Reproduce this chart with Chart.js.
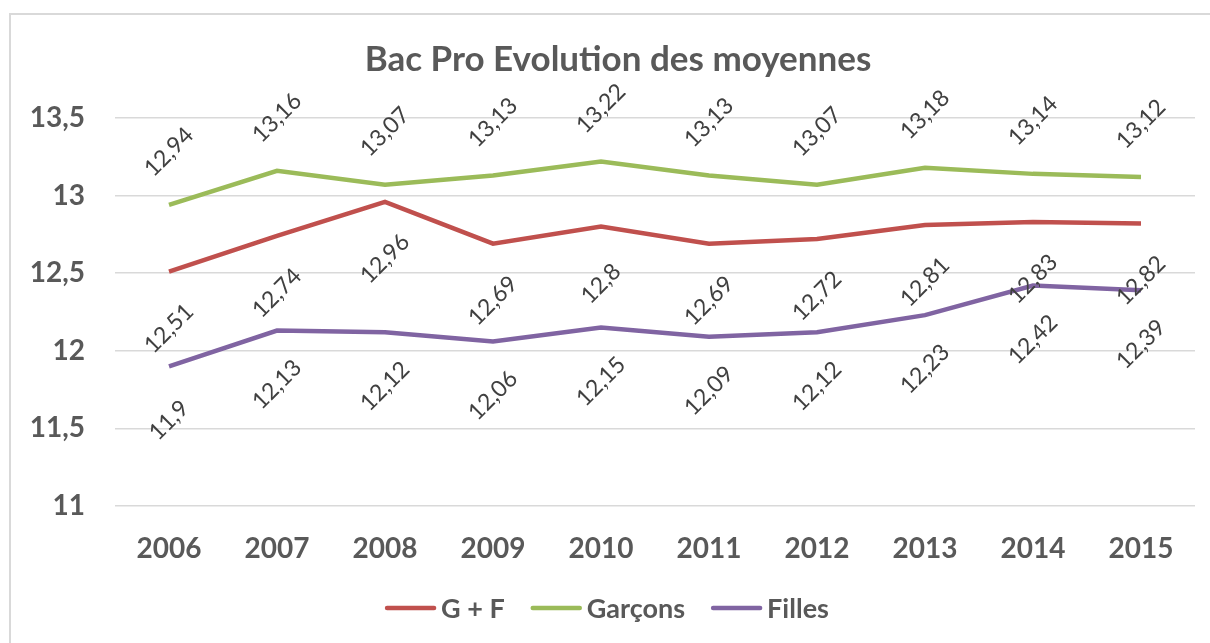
<!DOCTYPE html>
<html>
<head>
<meta charset="utf-8">
<script src="https://cdn.jsdelivr.net/npm/chart.js@4.4.1/dist/chart.umd.min.js"></script>
<style>
html,body{margin:0;padding:0;background:#fff;}
#wrap{position:relative;width:1210px;height:643px;}
</style>
</head>
<body>
<div id="wrap"><canvas id="c" width="1210" height="643"></canvas></div>
<script>
const categories = ['2006','2007','2008','2009','2010','2011','2012','2013','2014','2015'];
const gfValues = [12.51, 12.74, 12.96, 12.69, 12.8, 12.69, 12.72, 12.81, 12.83, 12.82];
const garconsValues = [12.94, 13.16, 13.07, 13.13, 13.22, 13.13, 13.07, 13.18, 13.14, 13.12];
const fillesValues = [11.9, 12.13, 12.12, 12.06, 12.15, 12.09, 12.12, 12.23, 12.42, 12.39];
const seriesNames = ['G + F', 'Garçons', 'Filles'];
const titleText = 'Bac Pro Evolution des moyennes';
const yMin = 11, yMax = 13.5, yStep = 0.5;

const colors = ['#C0504D', '#9BBB59', '#8064A2'];
const labelOffsets = [57, -53, 54]; // vertical offset of rotated value labels
const fmt = v => String(v).replace('.', ',');

const decorPlugin = {
  id: 'decor',
  beforeDraw(chart) {
    const ctx = chart.ctx;
    ctx.save();
    ctx.fillStyle = '#fff';
    ctx.fillRect(0, 0, chart.width, chart.height);
    ctx.strokeStyle = '#d9d9d9';
    ctx.lineWidth = 2;
    ctx.strokeRect(10, 14, 1240, 660);
    ctx.restore();
  },
  afterDatasetsDraw(chart) {
    const ctx = chart.ctx;
    ctx.save();
    // value labels
    ctx.font = '23px Lato';
    ctx.fillStyle = '#404040';
    ctx.textAlign = 'center';
    ctx.textBaseline = 'middle';
    chart.data.datasets.forEach((ds, di) => {
      const meta = chart.getDatasetMeta(di);
      meta.data.forEach((pt, i) => {
        ctx.save();
        ctx.translate(pt.x, pt.y + labelOffsets[di]);
        ctx.rotate(-Math.PI / 4);
        ctx.fillText(fmt(ds.data[i]), 0, 0);
        ctx.restore();
      });
    });
    // title
    ctx.font = 'bold 35px Lato';
    ctx.fillStyle = '#595959';
    ctx.textAlign = 'center';
    ctx.textBaseline = 'middle';
    ctx.fillText(titleText, 618, 60);
    // legend
    ctx.font = 'bold 27px Lato';
    ctx.textAlign = 'left';
    const lineLen = 51, gapText = 5, gapItem = 26;
    let total = 0;
    const widths = seriesNames.map(n => ctx.measureText(n).width);
    widths.forEach((w, i) => { total += lineLen + gapText + w + (i < widths.length - 1 ? gapItem : 0); });
    let x = 607 - total / 2;
    const ly = 608;
    seriesNames.forEach((n, i) => {
      ctx.strokeStyle = colors[i];
      ctx.lineWidth = 4.5;
      ctx.lineCap = 'round';
      ctx.beginPath();
      ctx.moveTo(x + 2, ly);
      ctx.lineTo(x + lineLen - 2, ly);
      ctx.stroke();
      ctx.fillStyle = '#595959';
      ctx.fillText(n, x + lineLen + gapText, ly + 1);
      x += lineLen + gapText + widths[i] + gapItem;
    });
    ctx.restore();
  }
};

const datasets = [gfValues, garconsValues, fillesValues].map((vals, i) => ({
  label: seriesNames[i],
  data: vals,
  borderColor: colors[i],
  backgroundColor: colors[i],
  borderWidth: 4.5,
  pointRadius: 0,
  pointHoverRadius: 0,
  tension: 0,
  fill: false
}));

new Chart(document.getElementById('c'), {
  type: 'line',
  data: { labels: categories, datasets },
  options: {
    responsive: false,
    animation: false,
    layout: { padding: { left: 0, top: 118, right: 15, bottom: 0 } },
    plugins: { legend: { display: false }, title: { display: false }, tooltip: { enabled: false } },
    scales: {
      x: {
        offset: true,
        grid: { display: false, drawTicks: false },
        border: { display: false },
        ticks: { color: '#595959', font: { family: 'Lato', size: 28, weight: 'bold' }, padding: 26, maxRotation: 0, autoSkip: false },
        afterFit(s) { s.height = 137; }
      },
      y: {
        min: yMin, max: yMax,
        grid: { color: '#d9d9d9', lineWidth: 1.5, drawTicks: false },
        border: { display: false },
        ticks: { stepSize: yStep, color: '#595959', font: { family: 'Lato', size: 28, weight: 'bold' }, padding: 30, callback: v => fmt(v) },
        afterFit(s) { s.width = 115; }
      }
    }
  },
  plugins: [decorPlugin]
});
</script>
</body>
</html>
